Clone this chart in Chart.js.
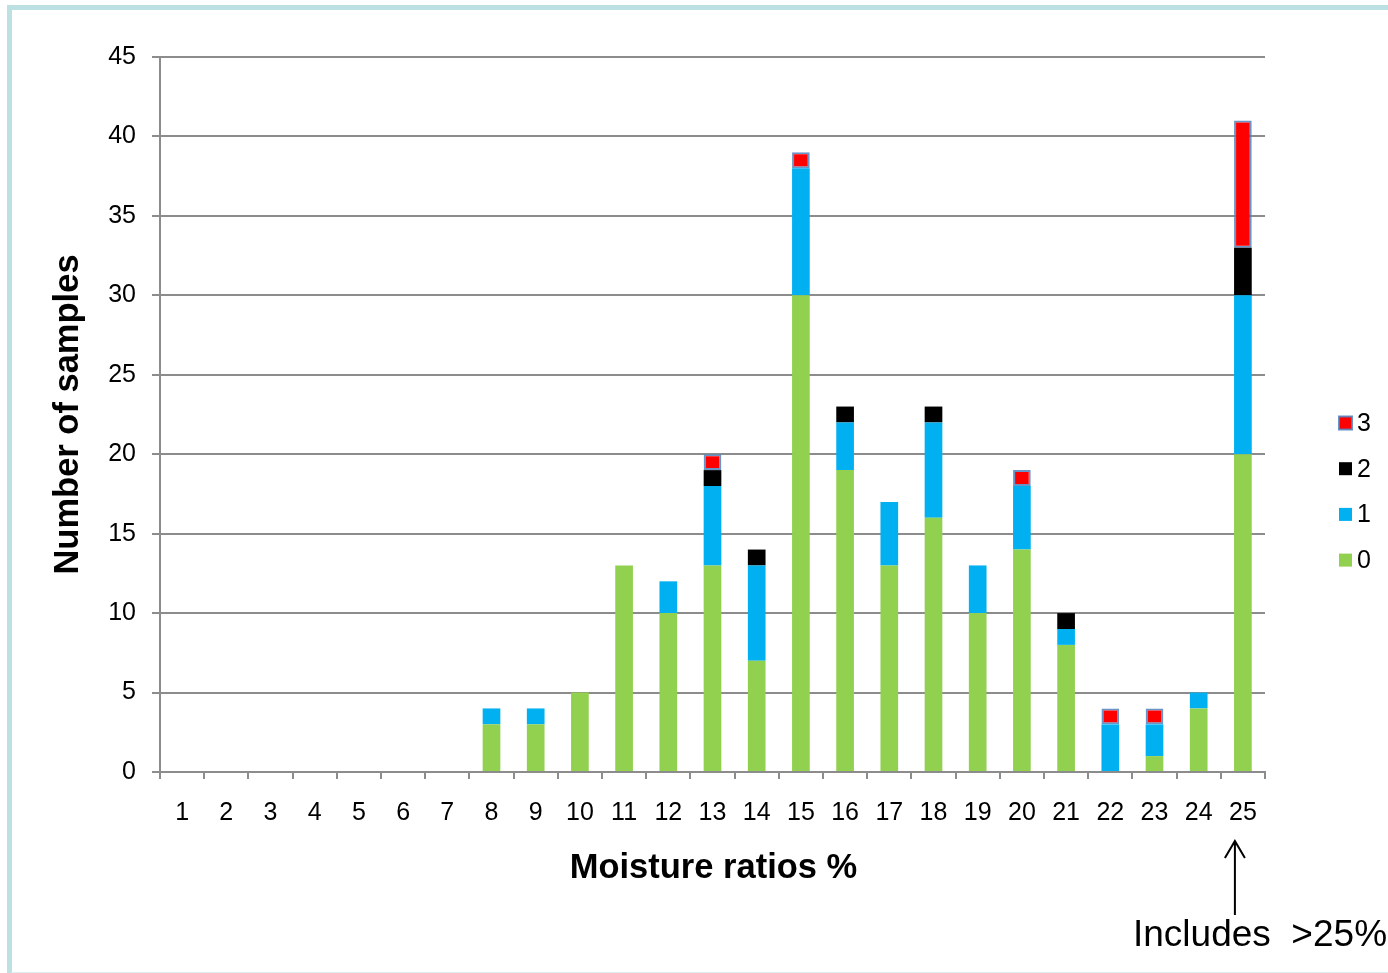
<!DOCTYPE html>
<html>
<head>
<meta charset="utf-8">
<script src="https://cdn.jsdelivr.net/npm/chart.js@4/dist/chart.umd.min.js"></script>
<style>
  html, body { margin: 0; padding: 0; background: #fff; }
  #wrap { position: relative; width: 1388px; height: 973px; overflow: hidden; }
  #frame {
    position: absolute; left: 7px; top: 5px; width: 1400px; height: 962px;
    border-left: 5px solid #bde0e3; border-top: 5px solid #bde0e3;
    border-bottom: 3px solid #dcefef; pointer-events: none;
  }
</style>
</head>
<body>
<div id="wrap">
  <canvas id="c" width="1388" height="973"></canvas>
  <div id="frame"></div>
</div>
<script>
// Moisture ratio classes (%), the last one also holds everything above 25%
const categories = ['1','2','3','4','5','6','7','8','9','10','11','12','13','14','15','16','17','18','19','20','21','22','23','24','25'];
const seriesNames = ['0', '1', '2', '3'];
const seriesColors = ['#92d050', '#00b0f0', '#000000', '#ff0000'];

// Number of samples per class, split by grade
const count0 = [0,0,0,0,0,0,0,3,3,5,13,10,13,7,30,19,13,16,10,14,8,0,1,4,20];
const count1 = [0,0,0,0,0,0,0,1,1,0,0,2,5,6,8,3,4,6,3,4,1,3,2,1,10];
const count2 = [0,0,0,0,0,0,0,0,0,0,0,0,1,1,0,1,0,1,0,0,1,0,0,0,3];
const count3 = [0,0,0,0,0,0,0,0,0,0,0,0,1,0,1,0,0,0,0,1,0,1,1,0,8];

const yTicks = { min: 0, max: 45, step: 5 };
const xTitle = 'Moisture ratios %';
const yTitle = 'Number of samples';
const noteText = 'Includes  >25%';

const FONT = '"Liberation Sans", Arial, Helvetica, sans-serif';
const GRID = '#8c8c8c';
const RED_EDGE = 'rgba(79,129,189,0.85)';

Chart.defaults.font.family = FONT;
Chart.defaults.color = '#000';

const allCounts = [count0, count1, count2, count3];
const datasets = allCounts.map((vals, i) => ({
  label: seriesNames[i],
  data: vals.map(v => (v === 0 ? null : v)),
  backgroundColor: seriesColors[i],
  borderColor: i === 3 ? RED_EDGE : seriesColors[i],
  borderWidth: i === 3 ? 2 : 0,
  borderSkipped: false,
  categoryPercentage: 1.0,
  barPercentage: 0.4,
  stack: 'all'
}));

// Titles, right-hand key and the ">25%" note
const decorations = {
  id: 'decorations',
  afterDraw(chart) {
    const ctx = chart.ctx;
    const area = chart.chartArea;
    const xs = chart.scales.x;
    ctx.save();

    // axis titles
    ctx.fillStyle = '#000';
    ctx.font = 'bold 34.5px ' + FONT;
    ctx.textAlign = 'center';
    ctx.textBaseline = 'middle';
    ctx.fillText(xTitle, (area.left + area.right) / 2 + 1, 868);
    ctx.save();
    ctx.translate(68, (area.top + area.bottom) / 2);
    ctx.rotate(-Math.PI / 2);
    ctx.fillText(yTitle, 0, 0);
    ctx.restore();

    // key, top series first
    ctx.font = '25px ' + FONT;
    ctx.textAlign = 'left';
    for (let k = 0; k < seriesNames.length; k++) {
      const i = seriesNames.length - 1 - k;
      const cy = 423 + k * 45.7;
      ctx.fillStyle = seriesColors[i];
      ctx.fillRect(1339, cy - 6.5, 13, 13);
      if (i === 3) {
        ctx.strokeStyle = RED_EDGE;
        ctx.lineWidth = 2;
        ctx.strokeRect(1339, cy - 6.5, 13, 13);
      }
      ctx.fillStyle = '#000';
      ctx.fillText(seriesNames[i], 1357, cy + 1);
    }

    // arrow pointing at the last class
    const ax = xs.getPixelForValue(categories.length - 1) - 8;
    ctx.strokeStyle = '#000';
    ctx.lineWidth = 2;
    ctx.beginPath();
    ctx.moveTo(ax, 915);
    ctx.lineTo(ax, 842);
    ctx.moveTo(ax - 10, 858);
    ctx.lineTo(ax, 841);
    ctx.lineTo(ax + 10, 858);
    ctx.stroke();

    ctx.font = '37px ' + FONT;
    ctx.textAlign = 'left';
    ctx.textBaseline = 'alphabetic';
    ctx.fillStyle = '#000';
    ctx.fillText(noteText, 1133, 946);

    ctx.restore();
  }
};

new Chart(document.getElementById('c'), {
  type: 'bar',
  data: { labels: categories, datasets },
  plugins: [decorations],
  options: {
    responsive: false,
    animation: false,
    layout: { padding: { top: 57, right: 123, left: 0, bottom: 0 } },
    plugins: {
      legend: { display: false },
      tooltip: { enabled: false },
      title: { display: false }
    },
    scales: {
      x: {
        stacked: true,
        offset: true,
        grid: {
          offset: true,
          drawOnChartArea: false,
          drawTicks: true,
          tickLength: 7,
          color: GRID,
          lineWidth: 2
        },
        border: { display: true, color: GRID, width: 2 },
        ticks: { color: '#000', font: { size: 25 }, padding: 19, maxRotation: 0, autoSkip: false },
        afterFit(s) { s.height = 201; }
      },
      y: {
        stacked: true,
        min: yTicks.min,
        max: yTicks.max,
        ticks: { stepSize: yTicks.step, color: '#000', font: { size: 25 }, padding: 16 },
        grid: { color: GRID, lineWidth: 2, drawTicks: true, tickLength: 8 },
        border: { display: true, color: GRID, width: 2 },
        afterFit(s) { s.width = 160; }
      }
    }
  }
});
</script>
</body>
</html>
